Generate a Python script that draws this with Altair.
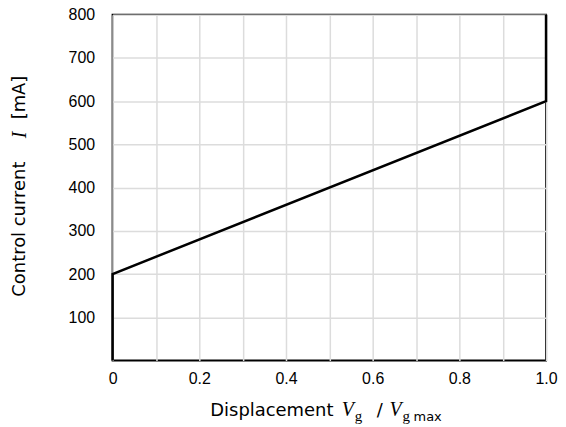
import altair as alt
import pandas as pd

# data
displacement = [0.0, 0.0, 1.0, 1.0]
control_current = [0, 200, 600, 800]
point_order = [0, 1, 2, 3]
x_grid_values = [0.0, 0.1, 0.2, 0.3, 0.4, 0.5, 0.6, 0.7, 0.8, 0.9, 1.0]
y_tick_values = [100, 200, 300, 400, 500, 600, 700, 800]

# x-title pieces
xt_texts = ["Displacement", "V", "g", "/", "V", "g", "max"]
xt_x = [98, 230, 243, 265, 278, 291, 302]
xt_y = [403, 403, 408, 403, 403, 408, 408]
xt_font = ["DejaVu Sans", "Liberation Serif", "Liberation Serif", "DejaVu Sans",
           "Liberation Serif", "Liberation Serif", "DejaVu Sans"]
xt_size = [18, 20, 15, 18, 20, 15, 13]
xt_style = ["normal", "italic", "normal", "normal", "italic", "normal", "normal"]

# y-title pieces (rotated)
yt_texts = ["Control current", "I", "[mA]"]
yt_y = [283, 124, 105]
yt_x = [-93, -93, -93]
yt_font = ["DejaVu Sans", "Liberation Serif", "DejaVu Sans"]
yt_size = [18, 20, 18]
yt_style = ["normal", "italic", "normal"]

df = pd.DataFrame({"disp": displacement, "cur": control_current, "ord": point_order})

label_expr = ("datum.value == 0 ? '0' : (round(datum.value * 10) % 2 == 0 ? "
              "format(datum.value, '.1f') : '')")

line = alt.Chart(df).mark_line(color="black", strokeWidth=2.5).encode(
    x=alt.X("disp:Q",
            scale=alt.Scale(domain=[0, 1], nice=False, zero=False),
            axis=alt.Axis(values=x_grid_values, labelExpr=label_expr, title=None,
                          grid=True, ticks=False, domain=False, labelFlush=False,
                          labelOverlap=False, labelFont="Liberation Sans",
                          labelFontSize=16, labelPadding=10, labelColor="black")),
    y=alt.Y("cur:Q",
            scale=alt.Scale(domain=[0, 800], nice=False),
            axis=alt.Axis(values=y_tick_values, title=None, grid=True, ticks=False,
                          domain=False, labelFont="Liberation Sans", labelFontSize=16,
                          labelPadding=18, labelColor="black", labelFlush=False)),
    order="ord:Q",
)

layers = [line]
for i, t in enumerate(xt_texts):
    layers.append(
        alt.Chart(pd.DataFrame({"t": [t]})).mark_text(
            align="left", baseline="alphabetic", font=xt_font[i], fontSize=xt_size[i],
            fontStyle=xt_style[i], color="black"
        ).encode(x=alt.value(xt_x[i]), y=alt.value(xt_y[i]), text="t:N")
    )
for i, t in enumerate(yt_texts):
    layers.append(
        alt.Chart(pd.DataFrame({"t": [t]})).mark_text(
            align="left", baseline="middle", angle=270, font=yt_font[i],
            fontSize=yt_size[i], fontStyle=yt_style[i], color="black"
        ).encode(x=alt.value(yt_x[i]), y=alt.value(yt_y[i]), text="t:N")
    )

chart = alt.layer(*layers).properties(
    width=435, height=347,
    autosize=alt.AutoSizeParams(type="none"),
    padding={"left": 105, "top": 6, "right": 12, "bottom": 66},
).configure_view(
    stroke="black", strokeWidth=2
).configure_axis(
    gridColor="#dcdcdc", gridWidth=1.5
)

chart.save("out.html", embed_options={"renderer": "svg", "actions": False})
